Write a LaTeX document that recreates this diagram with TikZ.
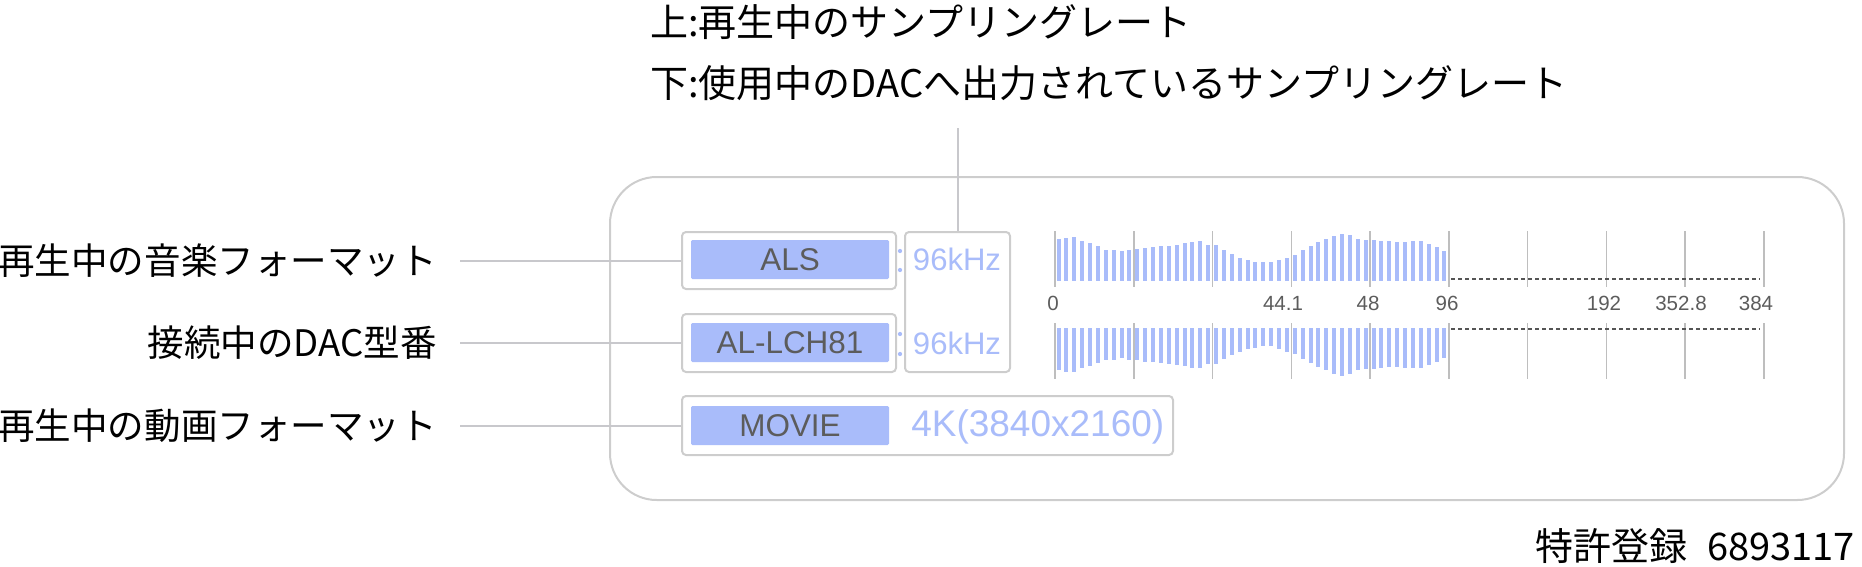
\documentclass[tikz,border=0pt]{standalone}
\usepackage{fontspec}
\setmainfont{Liberation Sans}
\newfontfamily\jp{Noto Sans CJK JP}
\definecolor{bluef}{HTML}{A9BCFA}
\definecolor{bordergray}{HTML}{CDCDCD}
\definecolor{linegray}{HTML}{C8C8CC}
\definecolor{textdark}{HTML}{5C5C5C}
\definecolor{tickgray}{HTML}{BEBEBE}
\definecolor{dotgray}{HTML}{555555}
\tikzset{
  box/.style={draw=bordergray, line width=1.5pt, rounded corners=3pt, fill=white, inner sep=0pt},
  fillbox/.style={fill=bluef, rounded corners=1pt, inner sep=0pt, minimum width=148.5pt, minimum height=29.25pt,
    text=textdark, font=\fontsize{23.6pt}{26pt}\selectfont},
  ratetext/.style={text=bluef, inner sep=0pt, font=\fontsize{23.3pt}{26pt}\selectfont},
  leftlab/.style={anchor=east, inner sep=0pt, font=\jp\fontsize{27.4pt}{30pt}\selectfont},
  toplab/.style={anchor=west, inner sep=0pt, font=\jp\fontsize{28.5pt}{31pt}\selectfont},
  conn/.style={draw=linegray, line width=1.5pt},
  tickline/.style={draw=tickgray, line width=1.1pt},
  axlab/.style={text=textdark, inner sep=0pt, font=\fontsize{15.4pt}{17pt}\selectfont},
  dotline/.style={draw=dotgray, line width=1.8pt, dash pattern=on 3pt off 2.25pt},
}
\begin{document}
\begin{tikzpicture}[x=0.75pt,y=-0.75pt]
\useasboundingbox (0,0) rectangle (1862,567);

% outer rounded frame
\draw[draw=bordergray, line width=1.5pt, rounded corners=35pt] (610,177) rectangle (1844,500);

% top captions
\node[toplab] (cap1) at (650,22) {上:再生中のサンプリングレート};
\node[toplab] (cap2) at (650,83) {下:使用中のDACへ出力されているサンプリングレート};

% boxes
\node[box, minimum width=160.5pt, minimum height=42.75pt] (alsbox) at (789,260.5) {};
\node[box, minimum width=160.5pt, minimum height=43.5pt] (dacbox) at (789,343) {};
\node[box, minimum width=78.75pt, minimum height=105pt] (ratebox) at (957.5,302) {};
\node[box, minimum width=368.25pt, minimum height=44.25pt] (moviebox) at (927.5,425.5) {};

\node[fillbox] (alsfill) at (790,259.5) {ALS};
\node[fillbox] (dacfill) at (790,342.5) {AL-LCH81};
\node[fillbox] (moviefill) at (790,425.5) {MOVIE};

\node[ratetext] (rate1) at (957,259) {96kHz};
\node[ratetext] (rate2) at (957,343) {96kHz};
\node[text=bluef, anchor=west, inner sep=0pt, font=\fontsize{27.75pt}{30pt}\selectfont] (res) at (911,426.5) {4K(3840x2160)};

% colon dots
\fill[bluef] (900,251) circle (1.6pt);
\fill[bluef] (900,270) circle (1.6pt);
\fill[bluef] (900,334) circle (1.6pt);
\fill[bluef] (900,354) circle (1.6pt);

% vertical leader to rate box
\coordinate (vtop) at (957.5,128);
\draw[conn] (vtop) -- (ratebox.north);

% left labels and leaders
\node[leftlab] (lab1) at (437,260.5) {再生中の音楽フォーマット};
\node[leftlab] (lab2) at (437,343) {接続中のDAC型番};
\node[leftlab] (lab3) at (437,425.5) {再生中の動画フォーマット};
\draw[conn] ([xshift=17.25pt]lab1.east) -- (alsbox.west);
\draw[conn] ([xshift=17.25pt]lab2.east) -- (dacbox.west);
\draw[conn] ([xshift=17.25pt]lab3.east) -- (moviebox.west);

% chart ticks
\foreach \k in {0,...,9} {
  \draw[tickline] ({1055+78.75*\k},231) -- ++(0,56);
  \draw[tickline] ({1055+78.75*\k},323) -- ++(0,56);
}
% bars upper
\foreach \h [count=\n from 0] in {41.7,43.3,44,40,38,34.7,30.7,30.7,29.7,31,31.7,33,33.7,34.7,35,36,37.7,39,39.7,35.7,35.7,30.7,26.7,23.3,21,19.3,18.7,19.3,21,23.3,26.3,30.7,34.7,39,42,45,47.3,45.7,42.3,40.7,40.7,39.7,39.7,38.7,38.7,39.7,39.7,37,33.7,29.7}
  \fill[bluef] ({1056.5+7.875*\n},281) rectangle ++(4,-\h);
% bars lower
\foreach \h [count=\n from 0] in {42.3,43.7,44.3,40.3,38.3,35,31.7,31.7,30.3,31.7,32.3,33.7,34.3,35,35.7,37,38.3,39.7,39.7,35.7,35.7,31,27,23.7,21,19.7,17.7,18.3,21,23.7,26.3,31,35,39,42.3,45.7,47.7,45.7,42.3,41,41,39.7,39,39,40.3,40.3,39.7,37,34.3,29.7}
  \fill[bluef] ({1056.5+7.875*\n},328) rectangle ++(4,\h);

% dotted continuation
\draw[dotline] (1451,279) -- (1760,279);
\draw[dotline] (1451,329) -- (1760,329);

% axis labels
\node[axlab] (t0) at (1053,303) {0};
\node[axlab] (t1) at (1283,303) {44.1};
\node[axlab] (t2) at (1368,303) {48};
\node[axlab] (t3) at (1447,303) {96};
\node[axlab] (t4) at (1604,303) {192};
\node[axlab] (t5) at (1681,303) {352.8};
\node[axlab] (t6) at (1756,303) {384};

% patent
\node[anchor=east, inner sep=0pt, font=\jp\fontsize{28.5pt}{31pt}\selectfont] (pat) at (1855,546) {特許登録\hspace{0.3em} 6893117};
\end{tikzpicture}
\end{document}
